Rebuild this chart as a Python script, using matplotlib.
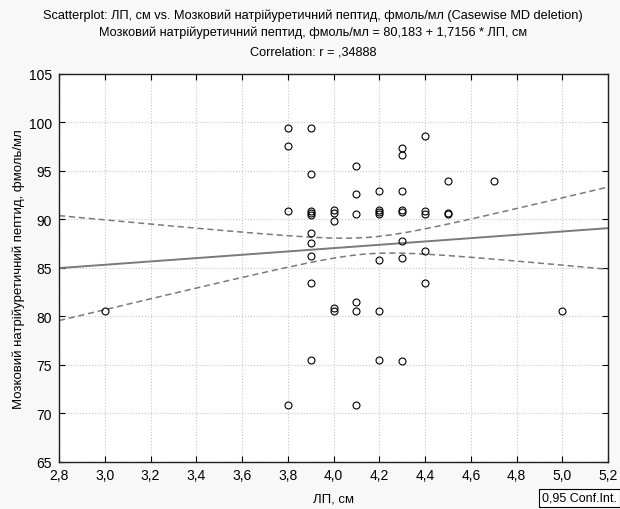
import matplotlib
matplotlib.use("Agg")
import matplotlib.pyplot as plt
import numpy as np
from matplotlib.ticker import FuncFormatter, MultipleLocator

# ---- data ----
lp_cm = [3.0,
         3.8, 3.8, 3.8, 3.8,
         3.9, 3.9, 3.9, 3.9, 3.9, 3.9, 3.9, 3.9, 3.9, 3.9,
         4.0, 4.0, 4.0, 4.0, 4.0,
         4.1, 4.1, 4.1, 4.1, 4.1, 4.1,
         4.2, 4.2, 4.2, 4.2, 4.2, 4.2, 4.2,
         4.3, 4.3, 4.3, 4.3, 4.3, 4.3, 4.3, 4.3,
         4.4, 4.4, 4.4, 4.4, 4.4,
         4.5, 4.5, 4.5,
         4.7,
         5.0]
bnp = [80.6,
       99.4, 97.6, 90.9, 70.9,
       99.4, 94.7, 90.9, 90.7, 90.5, 88.6, 87.6, 86.2, 83.5, 75.5,
       91.0, 90.7, 89.8, 80.9, 80.6,
       95.5, 92.6, 90.6, 81.5, 80.6, 70.9,
       92.9, 91.0, 90.8, 90.6, 85.8, 80.6, 75.5,
       97.4, 96.6, 92.9, 91.0, 90.8, 87.8, 86.0, 75.4,
       98.6, 90.9, 90.6, 86.8, 83.5,
       94.0, 90.7, 90.6,
       94.0,
       80.6]
intercept = 80.183
slope = 1.7156
# confidence band parameters
band_center = 4.15
band_min_half = 0.85
band_curv = 15.65

title_lines = ["Scatterplot: ЛП, см vs. Мозковий натрійуретичний пептид, фмоль/мл (Casewise MD deletion)",
               "Мозковий натрійуретичний пептид, фмоль/мл = 80,183 + 1,7156 * ЛП, см",
               "Correlation: r = ,34888"]
xlabel = "ЛП, см"
ylabel = "Мозковий натрійуретичний пептид, фмоль/мл"
legend_text = "0,95 Conf.Int."

plt.rcParams['font.family'] = ['Liberation Sans', 'DejaVu Sans']

fig = plt.figure(figsize=(6.2, 5.1), dpi=100, facecolor='#f8f8f8')
ax = fig.add_axes([0.0952, 0.0922, 0.8855, 0.7608])
ax.set_facecolor('white')

ax.set_xlim(2.8, 5.2)
ax.set_ylim(65, 105)
ax.xaxis.set_major_locator(MultipleLocator(0.2))
ax.yaxis.set_major_locator(MultipleLocator(5))
ax.xaxis.set_major_formatter(FuncFormatter(lambda v, p: f"{v:.1f}".replace('.', ',')))
ax.yaxis.set_major_formatter(FuncFormatter(lambda v, p: f"{v:.0f}"))
ax.grid(True, color='#c8c8c8', linestyle=':', linewidth=0.8)
ax.set_axisbelow(True)
ax.tick_params(direction='in', top=True, right=True, length=4, width=0.8,
               labelsize=10, colors='black')
ax.tick_params(axis='x', pad=4)
ax.tick_params(axis='y', pad=5)
for s in ax.spines.values():
    s.set_linewidth(1.0)
    s.set_color('#202020')

xs = np.linspace(2.8, 5.2, 200)
yfit = intercept + slope * xs
half = np.sqrt(band_min_half ** 2 + band_curv * (xs - band_center) ** 2)
ax.plot(xs, yfit, color='#7a7a7a', linewidth=1.4, zorder=2)
ax.plot(xs, yfit + half, color='#7a7a7a', linewidth=1.1, linestyle=(0, (4, 2.5)), zorder=2)
ax.plot(xs, yfit - half, color='#7a7a7a', linewidth=1.1, linestyle=(0, (4, 2.5)), zorder=2)

ax.plot(lp_cm, bnp, linestyle='none', marker='o', markersize=5, markerfacecolor='none',
        markeredgecolor='black', markeredgewidth=0.8, zorder=3)

ax.set_xlabel(xlabel, fontsize=9.5, labelpad=8)
ax.set_ylabel(ylabel, fontsize=9.5, labelpad=3)

ys = [0.970, 0.935, 0.898]
for t, y in zip(title_lines, ys):
    fig.text(0.505, y, t, ha='center', va='center', fontsize=9.2)

fig.text(0.874, 0.022, legend_text, ha='left', va='center', fontsize=9,
         bbox=dict(boxstyle='square,pad=0.25', facecolor='white', edgecolor='black', linewidth=0.8))

fig.savefig('out.png', dpi=100, facecolor=fig.get_facecolor())
